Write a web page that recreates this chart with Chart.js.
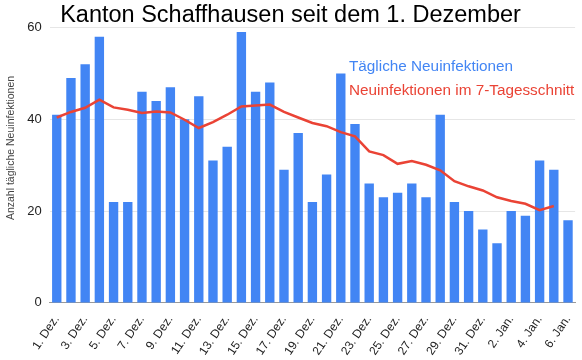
<!DOCTYPE html>
<html>
<head>
<meta charset="utf-8">
<script src="https://cdn.jsdelivr.net/npm/chart.js@4"></script>
<style>
  body { margin: 0; background: #fff; }
  #wrap { width: 582px; height: 360px; }
</style>
</head>
<body>
<div id="wrap"><canvas id="chart"></canvas></div>
<script>
const days = [
  "1. Dez.", "2. Dez.", "3. Dez.", "4. Dez.", "5. Dez.", "6. Dez.", "7. Dez.", "8. Dez.",
  "9. Dez.", "10. Dez.", "11. Dez.", "12. Dez.", "13. Dez.", "14. Dez.", "15. Dez.", "16. Dez.",
  "17. Dez.", "18. Dez.", "19. Dez.", "20. Dez.", "21. Dez.", "22. Dez.", "23. Dez.", "24. Dez.",
  "25. Dez.", "26. Dez.", "27. Dez.", "28. Dez.", "29. Dez.", "30. Dez.", "31. Dez.",
  "1. Jan.", "2. Jan.", "3. Jan.", "4. Jan.", "5. Jan.", "6. Jan."
];
const dailyCases = [
  41, 49, 52, 58, 22, 22, 46, 44, 47, 40, 45, 31, 34, 59, 46, 48,
  29, 37, 22, 28, 50, 39, 26, 23, 24, 26, 23, 41, 22, 20, 16,
  13, 20, 19, 31, 29, 18
];
const avg7 = [
  40.4, 41.6, 42.5, 44.3, 42.6, 42.1, 41.4, 41.7, 41.5, 39.9, 38.1, 39.4, 41.0, 42.8, 43.0, 43.2,
  41.6, 40.4, 39.2, 38.5, 37.2, 36.3, 33.0, 32.2, 30.3, 30.9, 30.1, 28.9, 26.5, 25.4, 24.5,
  23.0, 22.2, 21.6, 20.2, 21.1, null
];
const yTicks = [0, 20, 40, 60];

const barColor = "#4285f4";
const lineColor = "#ea4335";
const font = "'Liberation Sans', Arial, sans-serif";
const yTitle = "Anzahl tägliche Neuinfektionen";

// legend as plain coloured text inside the plot, y title drawn by hand
const textLegend = {
  id: "textLegend",
  afterDraw(chart) {
    const ctx = chart.ctx;
    ctx.save();
    ctx.font = "15.3px " + font;
    ctx.textBaseline = "middle";
    ctx.textAlign = "left";
    ctx.fillStyle = barColor;
    ctx.fillText("Tägliche Neuinfektionen", 349, 67);
    ctx.fillStyle = lineColor;
    ctx.fillText("Neuinfektionen im 7-Tagesschnitt", 349, 91);

    ctx.translate(11, 148);
    ctx.rotate(-Math.PI / 2);
    ctx.textAlign = "center";
    ctx.font = "10.5px " + font;
    ctx.fillStyle = "#444";
    ctx.fillText(yTitle, 0, 0);
    ctx.restore();
  }
};

new Chart(document.getElementById("chart"), {
  data: {
    labels: days,
    datasets: [
      {
        type: "line",
        label: "Neuinfektionen im 7-Tagesschnitt",
        data: avg7,
        borderColor: lineColor,
        borderWidth: 2.5,
        pointRadius: 0,
        tension: 0,
        fill: false,
        order: 0
      },
      {
        type: "bar",
        label: "Tägliche Neuinfektionen",
        data: dailyCases,
        backgroundColor: barColor,
        barPercentage: 0.66,
        categoryPercentage: 1,
        order: 1
      }
    ]
  },
  options: {
    responsive: true,
    maintainAspectRatio: false,
    animation: false,
    layout: { padding: { left: 2, right: 3, top: 0, bottom: 0 } },
    plugins: {
      legend: { display: false },
      tooltip: { enabled: false },
      title: {
        display: true,
        text: "Kanton Schaffhausen seit dem 1. Dezember",
        color: "#000",
        font: { family: font, size: 23.5, weight: "normal", lineHeight: 1 },
        padding: { top: 4, bottom: 0 }
      }
    },
    scales: {
      x: {
        grid: { display: false },
        border: { display: true, color: "#999" },
        ticks: {
          autoSkip: false,
          minRotation: 56,
          maxRotation: 56,
          color: "#222",
          font: { family: font, size: 12 },
          padding: 2,
          callback: (v, i) => (i % 2 === 0 ? days[i] : "")
        }
      },
      y: {
        min: 0,
        max: 60,
        afterBuildTicks: (axis) => { axis.ticks = yTicks.map((v) => ({ value: v })); },
        grid: { color: "#e6e6e6", drawTicks: false },
        border: { display: false },
        ticks: {
          color: "#222",
          padding: 8,
          font: { family: font, size: 13 }
        },
        title: {
          display: true,
          text: yTitle,
          color: "rgba(0,0,0,0)",
          font: { family: font, size: 11 },
          padding: { top: 0, bottom: 4 }
        }
      }
    }
  },
  plugins: [textLegend]
});
</script>
</body>
</html>
